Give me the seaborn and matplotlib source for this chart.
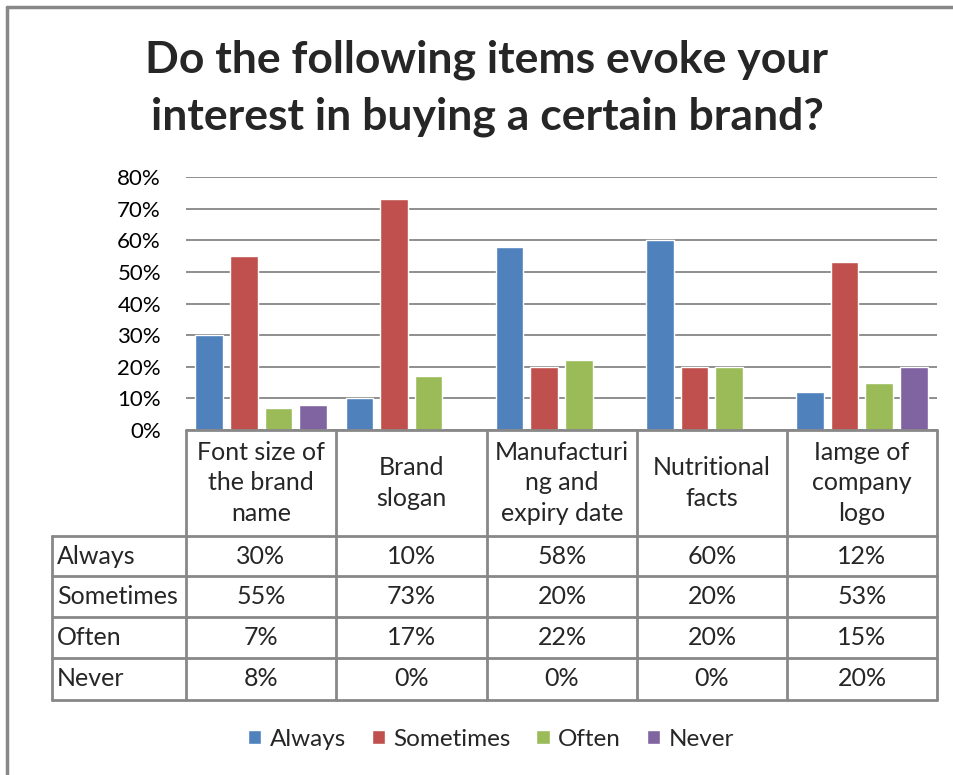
import matplotlib
matplotlib.use("Agg")
import matplotlib.pyplot as plt
from matplotlib.lines import Line2D
from matplotlib.ticker import PercentFormatter
import pandas as pd
import seaborn as sns

# Survey data
items = ["Font size of the brand name", "Brand slogan",
         "Manufacturing and expiry date", "Nutritional facts",
         "Iamge of company logo"]
item_headers = ["Font size of\nthe brand\nname", "Brand\nslogan",
                "Manufacturi\nng and\nexpiry date", "Nutritional\nfacts",
                "Iamge of\ncompany\nlogo"]
responses = ["Always", "Sometimes", "Often", "Never"]
always = [30, 10, 58, 60, 12]
sometimes = [55, 73, 20, 20, 53]
often = [7, 17, 22, 20, 15]
never = [8, 0, 0, 0, 20]
colors = ["#4F81BD", "#C0504D", "#9BBB59", "#8064A2"]

series = {"Always": always, "Sometimes": sometimes, "Often": often, "Never": never}
rows = []
for resp in responses:
    for item, v in zip(items, series[resp]):
        rows.append({"item": item, "response": resp, "share": v / 100})
df = pd.DataFrame(rows)

sns.set_theme(style="white")
FONT = ["Lato", "DejaVu Sans"]
plt.rcParams["font.family"] = FONT

W, H = 954, 775
fig = plt.figure(figsize=(W / 100, H / 100), dpi=100)

def fx(x):
    return x / W

def fy(y):
    return 1 - y / H

ax = fig.add_axes([fx(186), fy(430), fx(937) - fx(186), fy(177) - fy(430)])
sns.barplot(data=df, x="item", y="share", hue="response", order=items,
            hue_order=responses, palette=colors, width=0.92, gap=0.2,
            saturation=1, ax=ax, errorbar=None, legend=True)

ax.set_ylim(0, 0.8)
ax.set_yticks([i / 10 for i in range(9)])
ax.yaxis.set_major_formatter(PercentFormatter(1.0, decimals=0))
ax.tick_params(axis="y", length=0, pad=18, labelsize=16, labelcolor="#000000")
ax.tick_params(axis="x", length=0, labelbottom=False)
ax.set_xlabel("")
ax.set_ylabel("")
ax.set_xlim(-0.5, len(items) - 0.5)
ax.grid(axis="y", color="#868686", linewidth=1.3)
ax.set_axisbelow(True)
for s in ax.spines.values():
    s.set_visible(False)

handles, labels = ax.get_legend_handles_labels()
ax.get_legend().remove()
fig.legend(handles, labels, loc="center", bbox_to_anchor=(fx(491), fy(739)),
           ncol=4, frameon=False, fontsize=17.5, handlelength=0.55,
           handleheight=0.55, handletextpad=0.35, columnspacing=1.05)

# Title
fig.text(fx(487), fy(88), "Do the following items evoke your\ninterest in buying a certain brand?",
         ha="center", va="center", fontsize=32, fontweight="bold",
         linespacing=1.5)

# Data table under the plot
line_kw = dict(color="#888888", linewidth=2, transform=fig.transFigure)
col_x = [186, 336, 487, 637, 787, 937]
row_y = [536, 576, 617, 658, 700]

def hline(x0, x1, y):
    fig.add_artist(Line2D([fx(x0), fx(x1)], [fy(y), fy(y)], **line_kw))

def vline(x, y0, y1):
    fig.add_artist(Line2D([fx(x), fx(x)], [fy(y0), fy(y1)], **line_kw))

hline(186, 937, 430)
for y in row_y:
    hline(52, 937, y)
for x in col_x:
    vline(x, 430, 700)
vline(52, 536, 700)

for i, head in enumerate(item_headers):
    cx = (col_x[i] + col_x[i + 1]) / 2
    fig.text(fx(cx), fy(483), head, ha="center", va="center", fontsize=18,
             linespacing=1.4)

for r, resp in enumerate(responses):
    cy = (row_y[r] + row_y[r + 1]) / 2
    fig.text(fx(57), fy(cy), resp, ha="left", va="center", fontsize=18)
    for i, v in enumerate(series[resp]):
        cx = (col_x[i] + col_x[i + 1]) / 2
        fig.text(fx(cx), fy(cy), f"{v}%", ha="center", va="center", fontsize=18)

# Chart frame
frame_kw = dict(color="#888888", linewidth=2.5, transform=fig.transFigure)
fig.add_artist(Line2D([fx(7), fx(7)], [fy(7), fy(775)], **frame_kw))
fig.add_artist(Line2D([fx(7), fx(954)], [fy(7), fy(7)], **frame_kw))

fig.savefig("out.png", dpi=100, facecolor="white")
